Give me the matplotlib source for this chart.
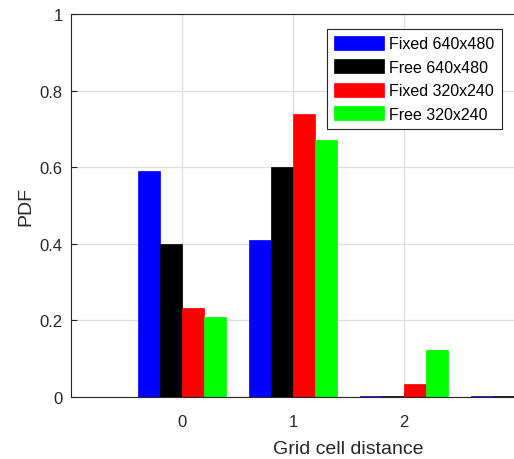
import numpy as np
import matplotlib.pyplot as plt

plt.rcParams['font.family'] = ['Liberation Sans', 'DejaVu Sans']

distance = [0, 1, 2, 3]
fixed_640 = [0.59, 0.41, 0.003, 0.003]
free_640 = [0.40, 0.60, 0.002, 0.002]
fixed_320 = [0.232, 0.74, 0.034, 0.0]
free_320 = [0.21, 0.67, 0.123, 0.0]

series = [
    ('Fixed 640x480', fixed_640, '#0000ff'),
    ('Free 640x480', free_640, '#000000'),
    ('Fixed 320x240', fixed_320, '#ff0000'),
    ('Free 320x240', free_320, '#00ff00'),
]

fig = plt.figure(figsize=(5.14, 4.60), dpi=100)
# axes runs past the right edge, like the cropped original
ax = fig.add_axes([0.138, 0.135, 1.08, 0.832])

x = np.array(distance)
w = 0.2
for i, (name, vals, col) in enumerate(series):
    ax.bar(x + (i - 1.5) * w, vals, width=w, color=col, label=name,
           edgecolor=col, linewidth=0.5, zorder=3)

ax.set_xlim(-1, 4)
ax.set_ylim(0, 1)
ax.set_xticks([0, 1, 2])
ax.set_yticks([0, 0.2, 0.4, 0.6, 0.8, 1])
ax.set_yticklabels(['0', '0.2', '0.4', '0.6', '0.8', '1'])
ax.grid(True, color='#e0e0e0', linewidth=1, zorder=0)
ax.tick_params(direction='in', length=4, labelsize=12, colors='#262626', width=0.8, pad=6)
ax.tick_params(axis='x', pad=12)
for s in ax.spines.values():
    s.set_color('#262626')
    s.set_linewidth(0.8)
    s.set_zorder(4)

ax.set_xlabel('Grid cell distance', fontsize=14, color='#262626', labelpad=8)
ax.set_ylabel('PDF', fontsize=14, color='#262626', labelpad=4)

leg = ax.legend(loc='upper left', bbox_to_anchor=(0.636, 0.935),
                bbox_transform=fig.transFigure, fontsize=11.5,
                handlelength=3.1, handleheight=0.95, handletextpad=0.35,
                labelspacing=0.5, borderpad=0.45, borderaxespad=0,
                fancybox=False, framealpha=1, edgecolor='#262626')
leg.get_frame().set_linewidth(0.8)

fig.savefig('out.png', dpi=100)
